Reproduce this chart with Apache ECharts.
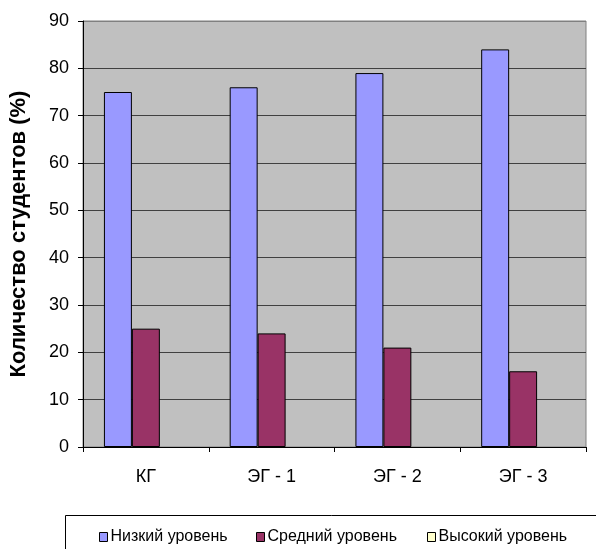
<!DOCTYPE html>
<html>
<head>
<meta charset="utf-8">
<script src="https://cdn.jsdelivr.net/npm/echarts@6/dist/echarts.min.js"></script>
<style>
  html, body { margin: 0; padding: 0; background: #fff; }
  #chart { width: 596px; height: 549px; }
</style>
</head>
<body>
<div id="chart"></div>
<script>
// Student groups along the horizontal axis
const groups = ['КГ', 'ЭГ - 1', 'ЭГ - 2', 'ЭГ - 3'];

// Share of students per level, %
const lowLevel = [75, 76, 79, 84];
const midLevel = [25, 24, 21, 16];
const highLevel = [0, 0, 0, 0];

const seriesNames = ['Низкий уровень', 'Средний уровень', 'Высокий уровень'];
const seriesColors = ['#9999FF', '#993366', '#FFFFCC'];

const yTicks = { min: 0, max: 90, step: 10 };
const yTitle = 'Количество студентов (%)';

const FONT = 'Liberation Sans, Arial, sans-serif';

const chart = echarts.init(document.getElementById('chart'), null, { renderer: 'canvas' });

// grid line colours: inner lines dark, top edge matches the plot border
const splitColors = [];
for (let v = yTicks.min; v <= yTicks.max; v += yTicks.step) {
  splitColors.push(v === yTicks.max ? '#808080' : '#404040');
}

function legendFor(name, left) {
  return {
    show: true,
    data: [name],
    left: left,
    top: 529,
    padding: 0,
    itemWidth: 8,
    itemHeight: 9,
    icon: 'rect',
    selectedMode: false,
    itemStyle: { borderColor: '#000', borderWidth: 1 },
    textStyle: { fontFamily: FONT, fontSize: 16, color: '#000', padding: [0, 0, 0, -2] }
  };
}

const values = [lowLevel, midLevel, highLevel];

chart.setOption({
  animation: false,
  backgroundColor: '#fff',
  grid: {
    left: 82, right: 10, top: 21, bottom: 102,
    show: true,
    backgroundColor: '#C0C0C0',
    borderColor: '#808080',
    borderWidth: 1
  },
  legend: [
    legendFor(seriesNames[0], 99),
    legendFor(seriesNames[1], 256),
    legendFor(seriesNames[2], 427)
  ],
  graphic: [{
    type: 'rect',
    z: -1,
    shape: { x: 65.5, y: 515.5, width: 600, height: 100 },
    style: { fill: 'none', stroke: '#000', lineWidth: 1 }
  }],
  xAxis: {
    type: 'category',
    data: groups,
    axisLine: { lineStyle: { color: '#000', width: 1 } },
    axisTick: { show: true, inside: false, length: 5, alignWithLabel: false, lineStyle: { color: '#000' } },
    axisLabel: { fontFamily: FONT, fontSize: 18, color: '#000', margin: 21 },
    splitLine: { show: false }
  },
  yAxis: {
    type: 'value',
    min: yTicks.min,
    max: yTicks.max,
    interval: yTicks.step,
    name: yTitle,
    nameLocation: 'middle',
    nameRotate: 90,
    nameGap: 53,
    nameTextStyle: { fontFamily: FONT, fontSize: 22, fontWeight: 'bold', color: '#000' },
    axisLine: { show: true, lineStyle: { color: '#000', width: 1 } },
    axisTick: { show: true, inside: false, length: 5, lineStyle: { color: '#000' } },
    axisLabel: { fontFamily: FONT, fontSize: 18, color: '#000', margin: 14 },
    splitLine: { show: true, lineStyle: { color: splitColors, width: 1 } }
  },
  series: seriesNames.map((name, i) => ({
    name: name,
    type: 'bar',
    data: values[i],
    barGap: '0%',
    barCategoryGap: '33.3%',
    itemStyle: { color: seriesColors[i], borderColor: '#000', borderWidth: i === 2 ? 0 : 1 }
  }))
});
</script>
</body>
</html>
